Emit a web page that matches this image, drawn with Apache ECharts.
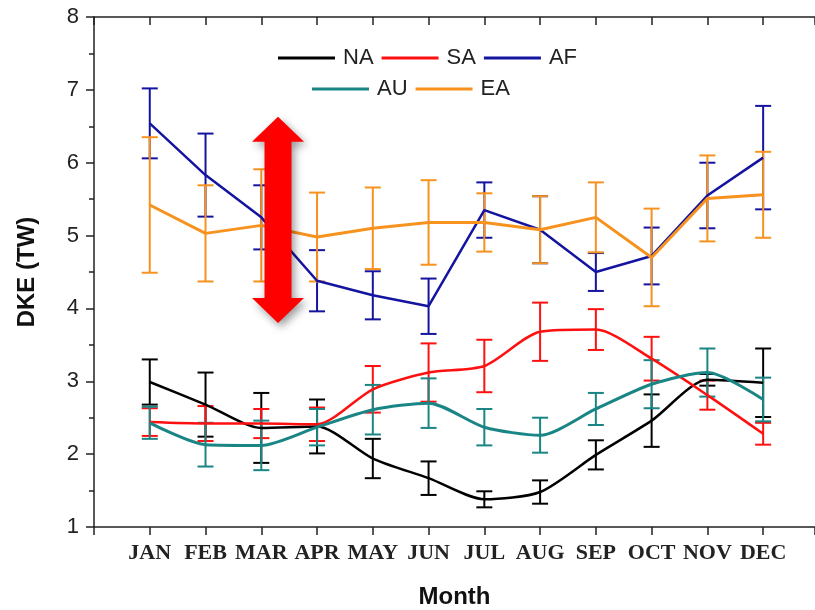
<!DOCTYPE html>
<html>
<head>
<meta charset="utf-8">
<script src="https://cdn.jsdelivr.net/npm/echarts@6/dist/echarts.min.js"></script>
<style>html,body{margin:0;padding:0;background:#fff;overflow:hidden}#chart{width:815px;height:610px}</style>
</head>
<body>
<div id="chart"></div>
<script>
const months = ['JAN','FEB','MAR','APR','MAY','JUN','JUL','AUG','SEP','OCT','NOV','DEC'];
const yTicks = [1,2,3,4,5,6,7,8];

const naMean = [2.99,2.68,2.36,2.38,1.94,1.67,1.38,1.48,1.99,2.46,3.02,2.98];
const naErr  = [0.31,0.44,0.48,0.37,0.27,0.23,0.11,0.16,0.20,0.36,0.08,0.47];
const saMean = [2.44,2.42,2.42,2.41,2.89,3.12,3.21,3.68,3.71,3.31,2.81,2.28];
const saErr  = [0.19,0.24,0.20,0.23,0.32,0.40,0.36,0.40,0.28,0.30,0.20,0.15];
const afMean = [6.54,5.83,5.25,4.38,4.18,4.03,5.35,5.08,4.50,4.72,5.55,6.07];
const afErr  = [0.48,0.57,0.44,0.42,0.33,0.38,0.38,0.46,0.26,0.39,0.45,0.71];
const auMean = [2.43,2.13,2.12,2.37,2.61,2.70,2.37,2.26,2.62,2.96,3.12,2.75];
const auErr  = [0.22,0.30,0.34,0.25,0.34,0.34,0.25,0.24,0.22,0.33,0.33,0.30];
const eaMean = [5.42,5.03,5.14,4.98,5.10,5.18,5.18,5.08,5.25,4.70,5.51,5.56];
const eaErr  = [0.93,0.66,0.77,0.61,0.56,0.58,0.40,0.46,0.48,0.67,0.59,0.59];

// annotation arrow: [x, yTop, yBottom]
const arrow = [[3.30, 6.63, 3.80]];

const colors = {NA:'#000000', SA:'#ff1010', AF:'#1414a0', AU:'#1a8585', EA:'#f7921e'};
const seriesDefs = [
  {name:'NA', mean:naMean, err:naErr, smooth:0.25, w:2.5},
  {name:'SA', mean:saMean, err:saErr, smooth:0.25, w:2.5},
  {name:'AF', mean:afMean, err:afErr, smooth:false, w:2.5},
  {name:'AU', mean:auMean, err:auErr, smooth:0.25, w:3},
  {name:'EA', mean:eaMean, err:eaErr, smooth:false, w:3}
];

const sans = 'Liberation Sans, Arial, sans-serif';
const serif = 'Liberation Serif, Times New Roman, serif';

function errRender(color){
  return function(params, api){
    const x = api.value(0), lo = api.value(1), hi = api.value(2);
    const p1 = api.coord([x, lo]), p2 = api.coord([x, hi]);
    const hw = 8;
    const st = {stroke: color, lineWidth: 2};
    return {type:'group', children:[
      {type:'line', shape:{x1:p1[0],y1:p1[1],x2:p2[0],y2:p2[1]}, style:st},
      {type:'line', shape:{x1:p1[0]-hw,y1:p1[1],x2:p1[0]+hw,y2:p1[1]}, style:st},
      {type:'line', shape:{x1:p2[0]-hw,y1:p2[1],x2:p2[0]+hw,y2:p2[1]}, style:st}
    ]};
  };
}

const series = [];
seriesDefs.forEach(d => {
  series.push({
    name: d.name + ' err', type:'custom', xAxisIndex:0, yAxisIndex:0,
    renderItem: errRender(colors[d.name]),
    encode:{x:0, y:[1,2]},
    data: d.mean.map((v,i)=>[i+1, v-d.err[i], v+d.err[i]]),
    z: 2, silent:true
  });
});
seriesDefs.forEach(d => {
  series.push({
    name: d.name, type:'line', xAxisIndex:0, yAxisIndex:0,
    data: d.mean.map((v,i)=>[i+1, v]),
    smooth: d.smooth, symbol:'none',
    lineStyle:{color:colors[d.name], width:d.w},
    itemStyle:{color:colors[d.name]},
    z: 3
  });
});
series.push({
  name:'arrow', type:'custom', xAxisIndex:0, yAxisIndex:0,
  data: arrow, encode:{x:0, y:[1,2]}, z:5, silent:true,
  renderItem: function(params, api){
    const x = api.value(0);
    const t = api.coord([x, api.value(1)]), b = api.coord([x, api.value(2)]);
    const cx = t[0], hh = 26, hl = 25, sh = 13.5;
    const pts = [
      [cx, t[1]], [cx+hh, t[1]+hl], [cx+sh, t[1]+hl], [cx+sh, b[1]-hl], [cx+hh, b[1]-hl],
      [cx, b[1]], [cx-hh, b[1]-hl], [cx-sh, b[1]-hl], [cx-sh, t[1]+hl], [cx-hh, t[1]+hl]
    ];
    return {type:'polygon', shape:{points:pts},
      style:{fill:'#ff0000', shadowBlur:9, shadowColor:'rgba(0,0,0,0.4)', shadowOffsetX:3, shadowOffsetY:4}};
  }
});

const axisLine = {show:true, lineStyle:{color:'#222', width:1.5}};
const legendText = {fontFamily:sans, fontSize:22, color:'#222', padding:[0,0,0,3]};

const option = {
  animation:false,
  backgroundColor:'#fff',
  grid:{left:94, right:0, top:17, bottom:83, containLabel:false, outerBoundsMode:'none'},
  legend:[
    {data:['NA','SA','AF'], left:278, top:47, padding:0, itemGap:8, itemWidth:57, itemHeight:3, icon:'rect', textStyle:legendText},
    {data:['AU','EA'], left:312, top:78, padding:0, itemGap:8, itemWidth:57, itemHeight:3, icon:'rect', textStyle:legendText}
  ],
  xAxis:[
    {type:'value', position:'bottom', min:0, max:12.93, interval:1,
     axisLine:axisLine, splitLine:{show:false},
     axisTick:{show:true, length:8, lineStyle:{color:'#222', width:1.5}},
     axisLabel:{formatter:v => months[v-1] || '', fontFamily:serif, fontWeight:'bold', fontSize:22, color:'#222', margin:15},
     name:'Month', nameLocation:'middle', nameGap:58,
     nameTextStyle:{fontFamily:sans, fontWeight:'bold', fontSize:24, color:'#111'}},
    {type:'value', position:'top', min:0, max:12.93, interval:1,
     axisLine:axisLine, splitLine:{show:false},
     axisTick:{show:true, inside:true, length:8, lineStyle:{color:'#222', width:1.5}},
     axisLabel:{show:false}}
  ],
  yAxis:[
    {type:'value', position:'left', min:yTicks[0], max:yTicks[yTicks.length-1], interval:1,
     axisLine:axisLine, splitLine:{show:false},
     axisTick:{show:true, length:8, lineStyle:{color:'#222', width:1.5}},
     minorTick:{show:true, splitNumber:2, length:5, lineStyle:{color:'#222', width:1.5}},
     axisLabel:{fontFamily:sans, fontSize:22, color:'#222', margin:15},
     name:'DKE (TW)', nameLocation:'middle', nameGap:55, nameRotate:90,
     nameTextStyle:{fontFamily:sans, fontWeight:'bold', fontSize:24, color:'#111'}},
    {type:'value', position:'right', min:yTicks[0], max:yTicks[yTicks.length-1], interval:1,
     axisLine:{show:false}, splitLine:{show:false},
     axisTick:{show:true, inside:true, length:8, lineStyle:{color:'#222', width:1.5}},
     minorTick:{show:true, splitNumber:2, length:3, lineStyle:{color:'#222', width:1.5}},
     axisLabel:{show:false}}
  ],
  series: series
};

const chart = echarts.init(document.getElementById('chart'), null, {renderer:'canvas'});
chart.setOption(option);
</script>
</body>
</html>
